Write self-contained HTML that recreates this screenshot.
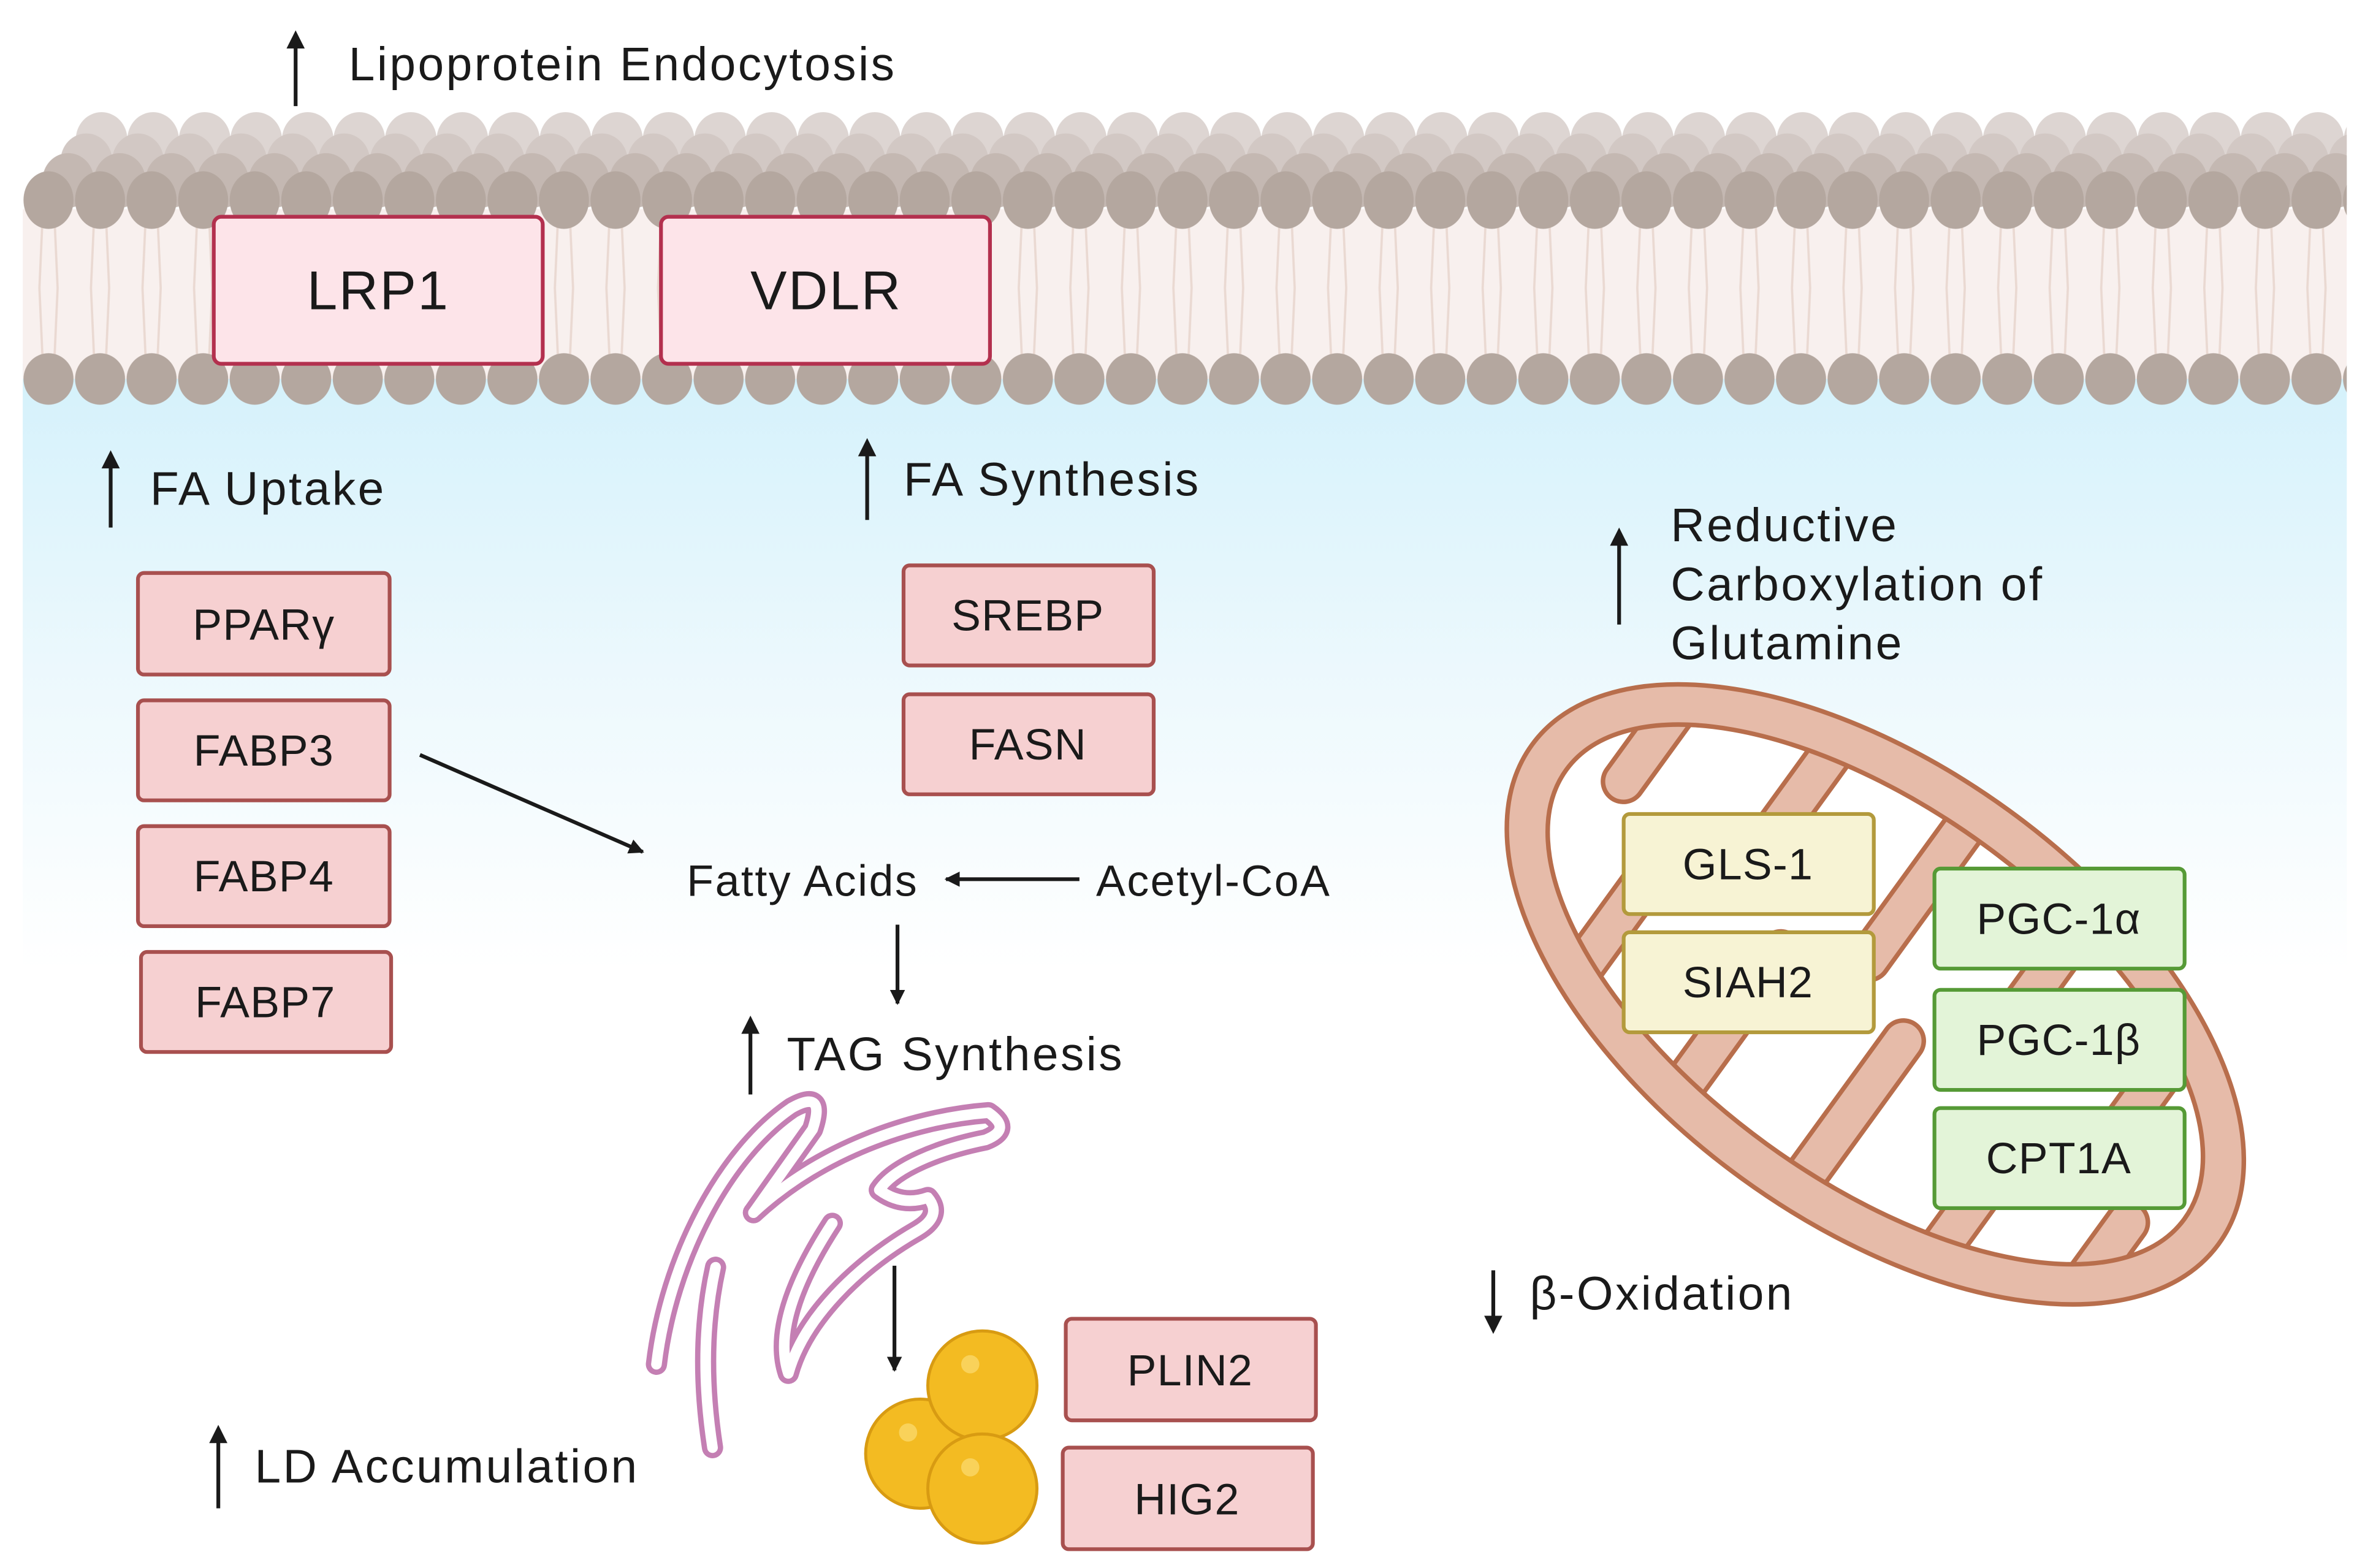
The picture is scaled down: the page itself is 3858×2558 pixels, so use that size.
<!DOCTYPE html>
<html><head><meta charset="utf-8"><style>
html,body{margin:0;padding:0;background:#fff}
svg{display:block}
text{font-family:"Liberation Sans","DejaVu Sans",sans-serif;fill:#1a1a1a}
</style></head><body>
<svg width="3858" height="2558" viewBox="0 0 1560 1034.4" preserveAspectRatio="none" xmlns="http://www.w3.org/2000/svg">
<defs>
<linearGradient id="bg" x1="0" y1="0" x2="0" y2="1">
<stop offset="0" stop-color="#d4f1fb"/><stop offset="0.55" stop-color="#eef9fd"/><stop offset="1" stop-color="#ffffff"/>
</linearGradient>
<pattern id="h0" patternUnits="userSpaceOnUse" x="50" y="0" width="34" height="400"><ellipse cx="17" cy="92" rx="17" ry="18" fill="#ddd5d2"/></pattern>
<pattern id="h1" patternUnits="userSpaceOnUse" x="40" y="0" width="34" height="400"><ellipse cx="17" cy="106" rx="17" ry="18" fill="#d2c8c4"/></pattern>
<pattern id="h2" patternUnits="userSpaceOnUse" x="28" y="0" width="34" height="400"><ellipse cx="17" cy="119" rx="17" ry="18" fill="#c4b8b2"/></pattern>
<pattern id="h3" patternUnits="userSpaceOnUse" x="15" y="0" width="34" height="400"><ellipse cx="17" cy="132" rx="16.5" ry="19" fill="#b4a79f"/></pattern>
<pattern id="h4" patternUnits="userSpaceOnUse" x="15" y="0" width="34" height="400"><ellipse cx="17" cy="250" rx="16.5" ry="17" fill="#b4a79f"/></pattern>
<pattern id="tl" patternUnits="userSpaceOnUse" x="15" y="0" width="34" height="400"><path d="M13 145 L11 190 L13 235 M21 145 L23 190 L21 235" stroke="#ead9d2" stroke-width="1.5" fill="none"/></pattern>
<marker id="ar" markerWidth="10" markerHeight="10" refX="9" refY="5" orient="auto" markerUnits="userSpaceOnUse"><path d="M0 0 L10 5 L0 10 z" fill="#1a1a1a"/></marker>
<clipPath id="mc"><ellipse cx="1237" cy="656" rx="252" ry="122"/></clipPath>
<clipPath id="mem"><rect x="15" y="60" width="1533" height="220"/></clipPath>
</defs>
<rect x="0" y="0" width="1560" height="1034.4" fill="#fff"/>
<rect x="15" y="240" width="1533" height="400" fill="url(#bg)"/>
<!-- membrane -->
<g clip-path="url(#mem)">
<rect x="15" y="138" width="1533" height="112" fill="#f8f0ee"/>
<rect x="15" y="138" width="1533" height="112" fill="url(#tl)"/>
<rect x="50" y="70" width="1498" height="40" fill="url(#h0)"/>
<rect x="40" y="84" width="1508" height="40" fill="url(#h1)"/>
<rect x="28" y="97" width="1520" height="40" fill="url(#h2)"/>
<rect x="15" y="110" width="1533" height="44" fill="url(#h3)"/>
<rect x="15" y="232" width="1533" height="36" fill="url(#h4)"/>
</g>
<rect x="141" y="143" width="217" height="97" rx="5" fill="#fde4e9" stroke="#b3304e" stroke-width="2.5"/>
<text x="249.5" y="204" font-size="36" text-anchor="middle" letter-spacing="1">LRP1</text>
<rect x="436" y="143" width="217" height="97" rx="5" fill="#fde4e9" stroke="#b3304e" stroke-width="2.5"/>
<text x="545" y="204" font-size="36" text-anchor="middle" letter-spacing="1">VDLR</text>
<!-- up arrows & labels -->
<g stroke="#1a1a1a" stroke-width="2.5" fill="none">
<path d="M195 70 V28"/><path d="M73 348 V305"/><path d="M572 343 V297"/><path d="M1068 412 V356"/><path d="M495 722 V678"/><path d="M144 995 V948"/>
<path d="M985 877 V838"/>
</g>
<g fill="#1a1a1a">
<path d="M189 32 L195 20 L201 32z"/><path d="M67 309 L73 297 L79 309z"/><path d="M566 301 L572 289 L578 301z"/><path d="M1062 360 L1068 348 L1074 360z"/><path d="M489 682 L495 670 L501 682z"/><path d="M138 952 L144 940 L150 952z"/>
<path d="M979 868 L985 880 L991 868z"/>
</g>
<g font-size="31" letter-spacing="1.4">
<text x="230" y="53">Lipoprotein Endocytosis</text>
<text x="99" y="333">FA Uptake</text>
<text x="596" y="327">FA Synthesis</text>
<text x="1102" y="357">Reductive</text>
<text x="1102" y="396">Carboxylation of</text>
<text x="1102" y="435">Glutamine</text>
<text x="519" y="706">TAG Synthesis</text>
<text x="168" y="978">LD Accumulation</text>
<text x="1009" y="864">β-Oxidation</text>
<text x="453" y="591" font-size="29" letter-spacing="1">Fatty Acids</text>
<text x="723" y="591" font-size="29" letter-spacing="1">Acetyl-CoA</text>
</g>
<!-- connectors -->
<g stroke="#1a1a1a" stroke-width="2.5" fill="none">
<path d="M277 498 L424 562" marker-end="url(#ar)"/>
<path d="M712 580 L624 580" marker-end="url(#ar)"/>
<path d="M592 610 L592 662" marker-end="url(#ar)"/>
<path d="M590 835 L590 904" marker-end="url(#ar)"/>
</g>
<!-- pink boxes -->
<g fill="#f6d0d1" stroke="#a8504f" stroke-width="2.5">
<rect x="91" y="378" width="166" height="67" rx="4"/>
<rect x="91" y="462" width="166" height="66" rx="4"/>
<rect x="91" y="545" width="166" height="66" rx="4"/>
<rect x="93" y="628" width="165" height="66" rx="4"/>
<rect x="596" y="373" width="165" height="66" rx="4"/>
<rect x="596" y="458" width="165" height="66" rx="4"/>
<rect x="703" y="870" width="165" height="67" rx="4"/>
<rect x="701" y="955" width="165" height="67" rx="4"/>
</g>
<g font-size="29" text-anchor="middle" letter-spacing="0.5">
<text x="174" y="422">PPARγ</text>
<text x="174" y="505">FABP3</text>
<text x="174" y="588">FABP4</text>
<text x="175" y="671">FABP7</text>
<text x="678" y="416">SREBP</text>
<text x="678" y="501">FASN</text>
<text x="785" y="914">PLIN2</text>
<text x="783" y="999">HIG2</text>
</g>
<!-- mitochondrion -->
<g transform="rotate(36 1237 656)">
<ellipse cx="1237" cy="656" rx="280" ry="150" fill="#e6bba9" stroke="#b86e4c" stroke-width="3"/>
<ellipse cx="1237" cy="656" rx="252" ry="122" fill="#fff"/>
<g clip-path="url(#mc)" stroke-linecap="round">
<g stroke="#b86e4c" stroke-width="30">
<path d="M1020 500 V640"/><path d="M1070 820 V690"/><path d="M1120 500 V650"/><path d="M1170 820 V670"/><path d="M1220 500 V640"/><path d="M1270 820 V670"/><path d="M1320 500 V640"/><path d="M1370 820 V680"/><path d="M1420 500 V640"/><path d="M1460 820 V680"/>
</g>
<g stroke="#e6bba9" stroke-width="24">
<path d="M1020 490 V640"/><path d="M1070 830 V690"/><path d="M1120 490 V650"/><path d="M1170 830 V670"/><path d="M1220 490 V640"/><path d="M1270 830 V670"/><path d="M1320 490 V640"/><path d="M1370 830 V680"/><path d="M1420 490 V640"/><path d="M1460 830 V680"/>
</g>
</g>
<ellipse cx="1237" cy="656" rx="252" ry="122" fill="none" stroke="#b86e4c" stroke-width="3" stroke-dasharray="0"/>
</g>
<g fill="#f7f3d4" stroke="#b39a3c" stroke-width="2.5">
<rect x="1071" y="537" width="165" height="66" rx="4"/>
<rect x="1071" y="615" width="165" height="66" rx="4"/>
</g>
<g fill="#e3f4d8" stroke="#569a36" stroke-width="2.5">
<rect x="1276" y="573" width="165" height="66" rx="4"/>
<rect x="1276" y="653" width="165" height="66" rx="4"/>
<rect x="1276" y="731" width="165" height="66" rx="4"/>
</g>
<g font-size="29" text-anchor="middle" letter-spacing="0.5">
<text x="1153" y="580">GLS-1</text>
<text x="1153" y="658">SIAH2</text>
<text x="1358" y="616">PGC-1α</text>
<text x="1358" y="696">PGC-1β</text>
<text x="1358" y="774">CPT1A</text>
</g>
<!-- ER -->
<g fill="none" stroke-linecap="round" stroke-linejoin="round">
<g stroke="#c47fb3" stroke-width="14">
<path d="M433 900 C441 832 477 762 522 731 Q545 718 536 745 L497 800"/>
<path d="M497 800 C540 760 600 738 652 734 Q668 745 650 752 C620 758 590 770 580 785 Q595 796 612 790 Q622 802 605 812 C565 835 530 870 520 906 Q508 870 549 807"/>
<path d="M472 836 Q460 890 470 955"/>
</g>
<g stroke="#ffffff" stroke-width="7">
<path d="M433 900 C441 832 477 762 522 731 Q545 718 536 745 L497 800"/>
<path d="M497 800 C540 760 600 738 652 734 Q668 745 650 752 C620 758 590 770 580 785 Q595 796 612 790 Q622 802 605 812 C565 835 530 870 520 906 Q508 870 549 807"/>
<path d="M472 836 Q460 890 470 955"/>
</g>
</g>
<!-- lipid droplets -->
<g fill="#f3bb22" stroke="#d89b12" stroke-width="2">
<circle cx="607" cy="959" r="36"/>
<circle cx="648" cy="914" r="36"/>
<circle cx="648" cy="982" r="36"/>
</g>
<g fill="#f9d25a"><circle cx="599" cy="945" r="6"/><circle cx="640" cy="900" r="6"/><circle cx="640" cy="968" r="6"/></g>
</svg>
</body></html>
